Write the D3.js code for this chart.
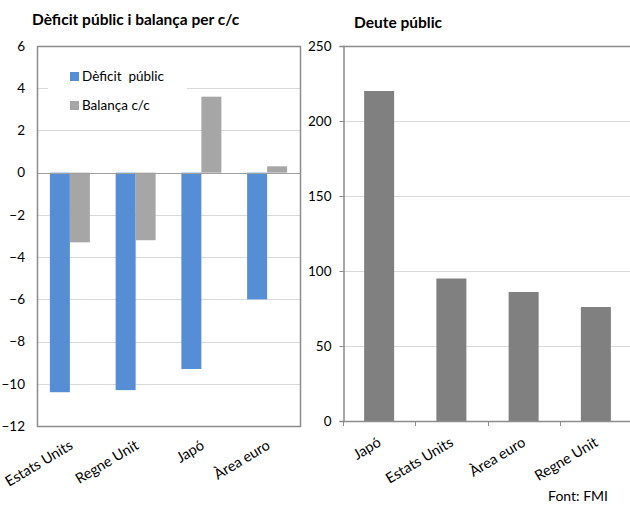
<!DOCTYPE html>
<html>
<head>
<meta charset="utf-8">
<script src="https://cdn.jsdelivr.net/npm/d3@7"></script>
<style>
  html, body { margin: 0; padding: 0; background: #fff; }
  svg { display: block; font-family: Lato, "Noto Sans", sans-serif; }
</style>
</head>
<body>
<svg id="chart" width="630" height="505"></svg>
<script>
// Left panel: public deficit and current account balance (% of GDP)
const balanceCategories = ["Estats Units", "Regne Unit", "Japó", "Àrea euro"];
const seriesNames = ["Dèficit  públic", "Balança c/c"];
const deficitValues = [-10.4, -10.3, -9.3, -6.0];
const currentAccountValues = [-3.3, -3.2, 3.6, 0.3];
const leftTicks = [6, 4, 2, 0, -2, -4, -6, -8, -10, -12];

// Right panel: public debt (% of GDP)
const debtCategories = ["Japó", "Estats Units", "Àrea euro", "Regne Unit"];
const debtValues = [220, 95, 86, 76];
const rightTicks = [0, 50, 100, 150, 200, 250];

const colors = { deficit: "#558ED5", balance: "#A6A6A6", debt: "#808080" };

const svg = d3.select("#chart");

// ---------- left panel ----------
const L = { left: 37, right: 300, top: 46, bottom: 426 };
const yL = d3.scaleLinear().domain([-12, 6]).range([L.bottom, L.top]);
const bandL = 40 / ((L.right - L.left) / 4);
const xL = d3.scaleBand().domain(balanceCategories).range([L.left, L.right])
  .paddingInner(1 - bandL).paddingOuter((1 - bandL) / 2);
const xSub = d3.scaleBand().domain(seriesNames).range([0, xL.bandwidth()]);

svg.append("text").attr("x", 32).attr("y", 25)
  .attr("font-size", 15.5).attr("font-weight", "bold").attr("fill", "#000")
  .text("Dèficit públic i balança per c/c");

// gridlines
svg.append("g").selectAll("line").data(leftTicks).join("line")
  .attr("x1", L.left).attr("x2", L.right)
  .attr("y1", d => Math.round(yL(d)) + 0.5).attr("y2", d => Math.round(yL(d)) + 0.5)
  .attr("stroke", "#D9D9D9").attr("stroke-width", 1);

// y tick labels
svg.append("g").attr("transform", `translate(${L.left},0)`)
  .call(d3.axisLeft(yL).tickValues(leftTicks).tickSize(0).tickPadding(12).tickFormat(d3.format("d")))
  .call(g => g.select(".domain").remove())
  .call(g => g.selectAll("text").attr("font-size", 13.5).attr("fill", "#000")
    .attr("font-family", "Lato, 'Noto Sans', sans-serif"));

const groups = svg.append("g").selectAll("g").data(balanceCategories).join("g")
  .attr("transform", d => `translate(${xL(d)},0)`);
groups.append("rect")
  .attr("x", xSub(seriesNames[0])).attr("width", xSub.bandwidth())
  .attr("y", (d, i) => yL(Math.max(0, deficitValues[i])))
  .attr("height", (d, i) => Math.abs(yL(deficitValues[i]) - yL(0)))
  .attr("fill", colors.deficit);
groups.append("rect")
  .attr("x", xSub(seriesNames[1])).attr("width", xSub.bandwidth())
  .attr("y", (d, i) => yL(Math.max(0, currentAccountValues[i])))
  .attr("height", (d, i) => Math.abs(yL(currentAccountValues[i]) - yL(0)))
  .attr("fill", colors.balance);

// zero line
svg.append("line").attr("x1", L.left).attr("x2", L.right)
  .attr("y1", Math.round(yL(0)) + 0.5).attr("y2", Math.round(yL(0)) + 0.5)
  .attr("stroke", "#A0A0A0");

// plot frame
svg.append("rect").attr("x", L.left + 0.5).attr("y", L.top + 0.5)
  .attr("width", L.right - L.left).attr("height", L.bottom - L.top)
  .attr("fill", "none").attr("stroke", "#8C8C8C").attr("stroke-width", 1.5);

// legend
const legend = svg.append("g");
legend.append("rect").attr("x", 48).attr("y", 58).attr("width", 139).attr("height", 64).attr("fill", "#fff");
const legItems = legend.selectAll("g").data(seriesNames).join("g")
  .attr("transform", (d, i) => `translate(70,${72 + i * 29})`);
legItems.append("rect").attr("width", 9).attr("height", 9)
  .attr("fill", (d, i) => i === 0 ? colors.deficit : colors.balance);
legItems.append("text").attr("x", 12).attr("y", 8.5).attr("font-size", 13.5).attr("fill", "#000")
  .attr("xml:space", "preserve").style("white-space", "pre").text(d => d);

// x labels
svg.append("g").selectAll("text").data(balanceCategories).join("text")
  .attr("transform", d => `translate(${xL(d) + xL.bandwidth() / 2 + 4},${L.bottom + 22}) rotate(-31)`)
  .attr("text-anchor", "end").attr("font-size", 14.5).attr("fill", "#000")
  .text(d => d);

// ---------- right panel ----------
const R = { left: 343, right: 632, top: 46, bottom: 421 };
const yR = d3.scaleLinear().domain([0, 250]).range([R.bottom, R.top]);
const stepR = (R.right - R.left) / 4;
const padR = 1 - 30 / stepR;
const xR = d3.scaleBand().domain(debtCategories).range([R.left, R.right])
  .paddingInner(padR).paddingOuter(padR / 2);

svg.append("text").attr("x", 354).attr("y", 28)
  .attr("font-size", 15.5).attr("font-weight", "bold").attr("fill", "#000")
  .text("Deute públic");

svg.append("g").selectAll("line").data(rightTicks.filter(d => d > 0)).join("line")
  .attr("x1", R.left).attr("x2", R.right)
  .attr("y1", d => Math.round(yR(d)) + 0.5).attr("y2", d => Math.round(yR(d)) + 0.5)
  .attr("stroke", d => d === 250 ? "#8C8C8C" : "#D9D9D9")
  .attr("stroke-width", d => d === 250 ? 1.5 : 1);

svg.append("g").selectAll("rect").data(debtCategories).join("rect")
  .attr("x", d => xR(d)).attr("width", xR.bandwidth())
  .attr("y", (d, i) => yR(debtValues[i]))
  .attr("height", (d, i) => yR(0) - yR(debtValues[i]))
  .attr("fill", colors.debt);

// y axis
svg.append("g").attr("transform", `translate(${R.left + 0.5},0)`)
  .call(d3.axisLeft(yR).tickValues(rightTicks).tickSize(4).tickPadding(8).tickFormat(d3.format("d")))
  .call(g => g.select(".domain").attr("stroke", "#8C8C8C").attr("stroke-width", 1.5))
  .call(g => g.selectAll(".tick line").attr("stroke", "#8C8C8C"))
  .call(g => g.selectAll("text").attr("font-size", 13.5).attr("fill", "#000")
    .attr("font-family", "Lato, 'Noto Sans', sans-serif"));

// x axis with ticks between categories
const boundaries = d3.range(5).map(i => R.left + i * stepR);
svg.append("line").attr("x1", R.left).attr("x2", R.right)
  .attr("y1", R.bottom + 0.5).attr("y2", R.bottom + 0.5)
  .attr("stroke", "#8C8C8C").attr("stroke-width", 1.5);
svg.append("g").selectAll("line").data(boundaries).join("line")
  .attr("x1", d => Math.round(d) + 0.5).attr("x2", d => Math.round(d) + 0.5)
  .attr("y1", R.bottom).attr("y2", R.bottom + 5)
  .attr("stroke", "#8C8C8C");

svg.append("g").selectAll("text").data(debtCategories).join("text")
  .attr("transform", d => `translate(${xR(d) + xR.bandwidth() / 2 + 3},${R.bottom + 24}) rotate(-31)`)
  .attr("text-anchor", "end").attr("font-size", 14.5).attr("fill", "#000")
  .text(d => d);

svg.append("text").attr("x", 608).attr("y", 501).attr("text-anchor", "end")
  .attr("font-size", 14).attr("fill", "#000").text("Font: FMI");
</script>
</body>
</html>
